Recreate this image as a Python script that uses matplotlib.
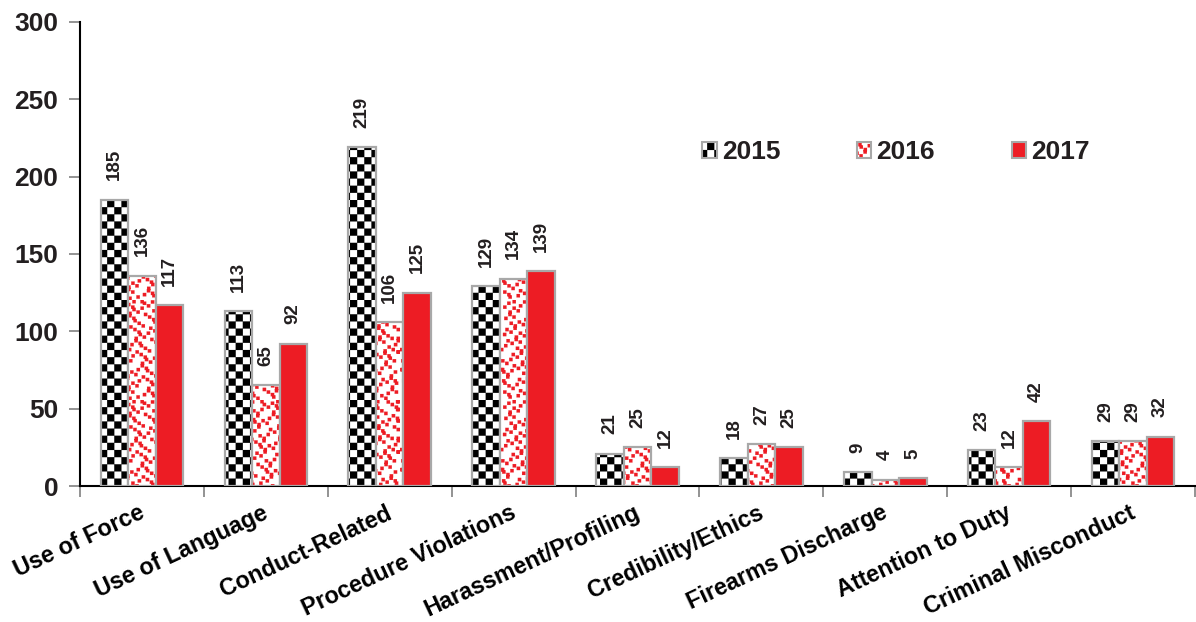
import numpy as np
import matplotlib
matplotlib.use("Agg")
import matplotlib.pyplot as plt
import matplotlib.hatch as mhatch
import matplotlib.transforms as mtrans
from matplotlib.path import Path
from matplotlib.patches import Patch
from matplotlib.ticker import FixedLocator
import warnings
warnings.filterwarnings("ignore")

categories = ["Use of Force", "Use of Language", "Conduct-Related", "Procedure Violations",
              "Harassment/Profiling", "Credibility/Ethics", "Firearms Discharge",
              "Attention to Duty", "Criminal Misconduct"]
years = ["2015", "2016", "2017"]
v2015 = [185, 113, 219, 129, 21, 18, 9, 23, 29]
v2016 = [136, 65, 106, 134, 25, 27, 4, 12, 29]
v2017 = [117, 92, 125, 139, 12, 25, 5, 42, 32]
yticks = [0, 50, 100, 150, 200, 250, 300]


# ---- custom hatch patterns -------------------------------------------------
class _SquaresHatch(mhatch.HatchPatternBase):
    cells = []

    def set_vertices_and_codes(self, vertices, codes):
        k = 0
        for (x, y, s) in self.cells:
            vertices[k:k + 5] = [(x, y), (x + s, y), (x + s, y + s), (x, y + s), (x, y)]
            codes[k:k + 5] = [Path.MOVETO, Path.LINETO, Path.LINETO, Path.LINETO, Path.CLOSEPOLY]
            k += 5


class CheckerHatch(_SquaresHatch):
    def __init__(self, hatch, density):
        n = hatch.count('k')
        cells = []
        m = 2 * n
        for i in range(m):
            for j in range(m):
                if (i + j) % 2 == 0:
                    cells.append((i / m, j / m, 1.0 / m))
        self.cells = cells
        self.num_vertices = len(cells) * 5


class DotHatch(_SquaresHatch):
    def __init__(self, hatch, density):
        m = hatch.count('d')
        cells = []
        if m > 0:
            sp = 1.0 / m
            s = 0.034
            for i in range(m):
                for j in range(m):
                    dx = (((i * 5 + j * 3) % 7) - 3) * 0.011
                    dy = (((i * 3 + j * 7) % 5) - 2) * 0.013
                    off = 0.5 * sp if j % 2 else 0.0
                    x = (i * sp + off + dx) % 1.0
                    y = (j * sp + dy) % 1.0
                    x = min(x, 1 - s)
                    y = min(y, 1 - s)
                    cells.append((x, y, s))
        self.cells = cells
        self.num_vertices = len(cells) * 5


mhatch._hatch_types.append(CheckerHatch)
mhatch._hatch_types.append(DotHatch)

CHECK = 'k' * 7
DOTS = 'd' * 16

plt.rcParams['font.family'] = ['Liberation Sans', 'DejaVu Sans']
plt.rcParams['hatch.linewidth'] = 0.1

RED = '#ED1C24'
EDGE = '#A8A8A8'
TXT = '#231F20'

fig = plt.figure(figsize=(11.96, 6.22), dpi=100)
ax = fig.add_axes([80 / 1196, 1 - 486 / 622, 1115 / 1196, (486 - 22) / 622])

x = np.arange(len(categories))
w = 0.222

def set_hc(patches, c):
    rgba = matplotlib.colors.to_rgba(c)
    for p in patches:
        p._hatch_color = rgba

b1 = ax.bar(x - w, v2015, w, color='white', edgecolor=EDGE, linewidth=1.6, hatch=CHECK, zorder=3)
set_hc(b1, 'black')
b2 = ax.bar(x, v2016, w, color='white', edgecolor=EDGE, linewidth=1.6, hatch=DOTS, zorder=3)
set_hc(b2, RED)
b3 = ax.bar(x + w, v2017, w, color=RED, edgecolor=EDGE, linewidth=1.6, zorder=3)

for off, vals in [(-w, v2015), (0, v2016), (w, v2017)]:
    for xi, v in zip(x, vals):
        ax.annotate(str(v), (xi + off, v), xytext=(0, 14), textcoords='offset points',
                    rotation=90, ha='center', va='bottom', fontsize=13.5,
                    fontweight='bold', color=TXT)

ax.set_xlim(-0.5, len(categories) - 0.5)
ax.set_ylim(0, 300)
ax.set_yticks(yticks)
ax.set_yticklabels([str(t) for t in yticks], fontsize=19, fontweight='bold', color=TXT)
ax.tick_params(axis='y', length=8, width=1.2, color='#808080', pad=7.5)

ax.set_xticks(x)
ax.set_xticklabels(categories, rotation=25, ha='right', rotation_mode='anchor',
                   fontsize=16.8, fontweight='bold', color='black')
ax.tick_params(axis='x', which='major', length=0, pad=11)
shift = mtrans.ScaledTranslation(-4 / 100, 0, fig.dpi_scale_trans)
for lbl in ax.get_xticklabels():
    lbl.set_transform(lbl.get_transform() + shift)
ax.xaxis.set_minor_locator(FixedLocator(np.arange(-0.5, len(categories), 1.0)))
ax.tick_params(axis='x', which='minor', length=8, width=1.2, color='#808080')

for s in ['top', 'right']:
    ax.spines[s].set_visible(False)
for s in ['left', 'bottom']:
    ax.spines[s].set_linewidth(1.5)
    ax.spines[s].set_color('black')

handles = [Patch(facecolor='white', edgecolor=EDGE, hatch=CHECK, linewidth=1.5),
           Patch(facecolor='white', edgecolor=EDGE, hatch=DOTS, linewidth=1.5),
           Patch(facecolor=RED, edgecolor=EDGE, linewidth=1.5)]
leg = fig.legend(handles, years, loc='center left', bbox_to_anchor=(702 / 1196, 1 - 152 / 622),
                 ncol=3, frameon=False, prop={'size': 19, 'weight': 'bold'},
                 handlelength=0.55, handleheight=0.55, handletextpad=0.2,
                 columnspacing=2.9, borderpad=0, borderaxespad=0)
for t in leg.get_texts():
    t.set_color(TXT)
lp = leg.get_patches()
set_hc([lp[0]], 'black')
set_hc([lp[1]], RED)

fig.savefig('out.png', dpi=100)
